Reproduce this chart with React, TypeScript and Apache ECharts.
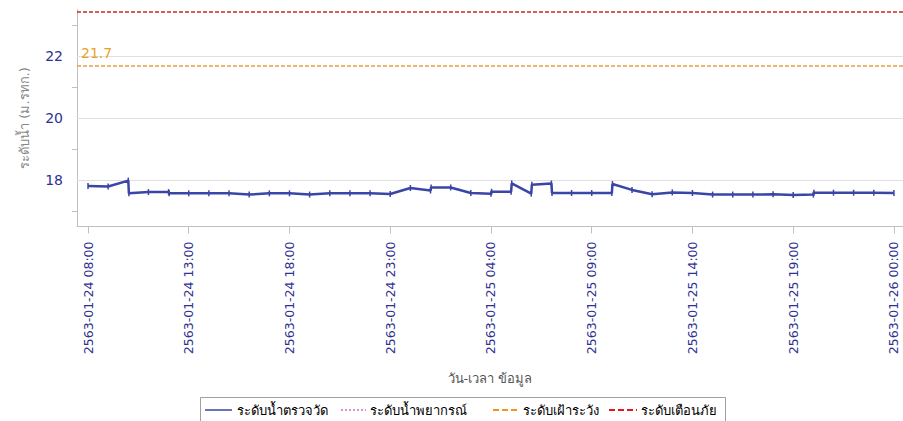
import React, { useEffect, useRef } from "react";
import * as echarts from "echarts";

// Hours counted from 2563-01-24 00:00
const obsHours = [
  8, 9, 10, 10.03, 11, 12, 12.03, 13, 14, 15, 16, 17, 18, 19, 20, 21, 22, 23,
  24, 25, 25.03, 26, 27, 28, 28.03, 29, 29.03, 30, 30.03, 31, 31.03, 32, 33, 34,
  34.03, 35, 36, 37, 38, 39, 40, 41, 42, 43, 44, 44.03, 45, 46, 47, 48,
];
const obsLevels = [
  17.81, 17.79, 17.98, 17.57, 17.61, 17.61, 17.57, 17.57, 17.57, 17.57, 17.53,
  17.57, 17.57, 17.53, 17.57, 17.57, 17.57, 17.55, 17.74, 17.66, 17.76, 17.76,
  17.58, 17.56, 17.62, 17.62, 17.89, 17.56, 17.85, 17.89, 17.58, 17.58, 17.58,
  17.58, 17.87, 17.68, 17.54, 17.6, 17.58, 17.53, 17.53, 17.53, 17.54, 17.52,
  17.53, 17.59, 17.59, 17.59, 17.59, 17.58,
];

const watchLevel = 21.7;
const alarmLevel = 23.42;

const xTickHours = [8, 13, 18, 23, 28, 33, 38, 43, 48];
const yLabelValues = [18, 20, 22];
const yTickValues = [17, 19, 21, 23];

const seriesNames = [
  "ระดับน้ำตรวจวัด",
  "ระดับน้ำพยากรณ์",
  "ระดับเฝ้าระวัง",
  "ระดับเตือนภัย",
];

const FONT = "Tahoma, 'DejaVu Sans', 'Noto Sans', sans-serif";
const NAVY = "#2e3192";
const BLUE = "#3a45a5";
const PINK = "#d66cc0";
const ORANGE = "#f0951e";
const RED = "#e8151c";

const pad = (n: number) => (n < 10 ? "0" + n : "" + n);
const hourLabel = (h: number) => {
  const r = Math.round(h);
  const day = 24 + Math.floor(r / 24);
  return `2563-01-${pad(day)} ${pad(r % 24)}:00`;
};

// Boxed legend along the bottom: sample line + caption per series
const legendRow = [
  { x1: 205, x2: 232, tx: 237, color: BLUE, dash: null as number[] | null, width: 1.5 },
  { x1: 341, x2: 366, tx: 370, color: PINK, dash: [2, 2], width: 1.5 },
  { x1: 493, x2: 519, tx: 523, color: ORANGE, dash: [6, 3], width: 2 },
  { x1: 609, x2: 637, tx: 641, color: RED, dash: [6, 3], width: 2 },
];

export default function App() {
  const ref = useRef<HTMLDivElement>(null);

  useEffect(() => {
    if (!ref.current) return;
    const chart = echarts.init(ref.current, undefined, { renderer: "svg" });
    const obs = obsHours.map((h, i) => [h, obsLevels[i]]);
    const legendY = 410;

    const legendElements: any[] = [
      {
        type: "rect",
        silent: true,
        shape: { x: 200.5, y: 397.5, width: 525, height: 30 },
        style: { fill: "none", stroke: "#a0a0a0", lineWidth: 1 },
      },
    ];
    legendRow.forEach((item, i) => {
      legendElements.push({
        type: "line",
        silent: true,
        shape: { x1: item.x1, y1: legendY, x2: item.x2, y2: legendY },
        style: {
          stroke: item.color,
          lineWidth: item.width,
          lineDash: item.dash || undefined,
        },
      });
      legendElements.push({
        type: "text",
        silent: true,
        x: item.tx,
        y: legendY,
        style: {
          text: seriesNames[i],
          fill: "#000",
          font: `13px ${FONT}`,
          verticalAlign: "middle",
          align: "left",
        },
      });
    });

    chart.setOption({
      animation: false,
      textStyle: { fontFamily: FONT },
      grid: { left: 77, top: 9.5, width: 826, height: 217, containLabel: false },
      graphic: legendElements,
      xAxis: {
        type: "value",
        min: 7.454,
        max: 48.45,
        name: "วัน-เวลา ข้อมูล",
        nameLocation: "middle",
        nameGap: 145,
        nameTextStyle: { fontSize: 13, color: "#555", fontFamily: FONT },
        axisLine: { show: true, lineStyle: { color: "#c0c0c0" } },
        axisTick: {
          show: true,
          length: 7,
          customValues: xTickHours,
          lineStyle: { color: "#c0c0c0" },
        },
        axisLabel: {
          customValues: xTickHours,
          rotate: 90,
          margin: 15,
          fontSize: 12.5,
          color: NAVY,
          formatter: (v: number) => hourLabel(v),
        },
        splitLine: { show: false },
      },
      yAxis: {
        type: "value",
        min: 16.5,
        max: 23.5,
        name: "ระดับน้ำ (ม.รทก.)",
        nameLocation: "middle",
        nameGap: 46,
        nameTextStyle: { fontSize: 13, color: "#888", fontFamily: FONT },
        axisLine: { show: true, lineStyle: { color: "#c0c0c0" } },
        axisTick: {
          show: true,
          length: 5,
          customValues: yTickValues,
          lineStyle: { color: "#c0c0c0" },
        },
        axisLabel: {
          customValues: yLabelValues,
          margin: 14,
          fontSize: 14,
          color: NAVY,
        },
        splitLine: { show: false },
      },
      series: [
        {
          name: "grid",
          type: "line",
          data: [],
          silent: true,
          z: 1,
          markLine: {
            silent: true,
            symbol: ["none", "none"],
            label: { show: false },
            lineStyle: { color: "#e0e0e0", type: "solid", width: 1 },
            data: yLabelValues.map((v) => ({ yAxis: v })),
          },
        },
        {
          name: seriesNames[0],
          type: "line",
          data: obs,
          z: 5,
          color: BLUE,
          lineStyle: { width: 2.5, color: BLUE },
          symbol: "rect",
          symbolSize: [1.5, 6],
          itemStyle: { color: BLUE },
        },
        {
          name: seriesNames[1],
          type: "line",
          data: [],
          color: PINK,
          lineStyle: { type: "dotted", width: 1, color: PINK },
          symbol: "none",
        },
        {
          name: seriesNames[2],
          type: "line",
          data: [],
          color: ORANGE,
          symbol: "none",
          markLine: {
            silent: true,
            symbol: ["none", "none"],
            lineStyle: { type: [4, 2], width: 1.5, color: "#e8a040" },
            label: {
              show: true,
              position: "insideStartTop",
              formatter: "{c}",
              color: "#e8a21e",
              fontSize: 14,
              distance: [4, 5],
            },
            data: [{ yAxis: watchLevel }],
          },
        },
        {
          name: seriesNames[3],
          type: "line",
          data: [],
          color: RED,
          symbol: "none",
          markLine: {
            silent: true,
            symbol: ["none", "none"],
            lineStyle: { type: [4, 2], width: 1.5, color: "#cc2a2a" },
            label: { show: false },
            data: [{ yAxis: alarmLevel }],
          },
        },
      ],
    });

    return () => chart.dispose();
  }, []);

  return (
    <div
      ref={ref}
      style={{ position: "fixed", left: 0, top: 0, width: 903, height: 421, background: "#fff" }}
    />
  );
}
